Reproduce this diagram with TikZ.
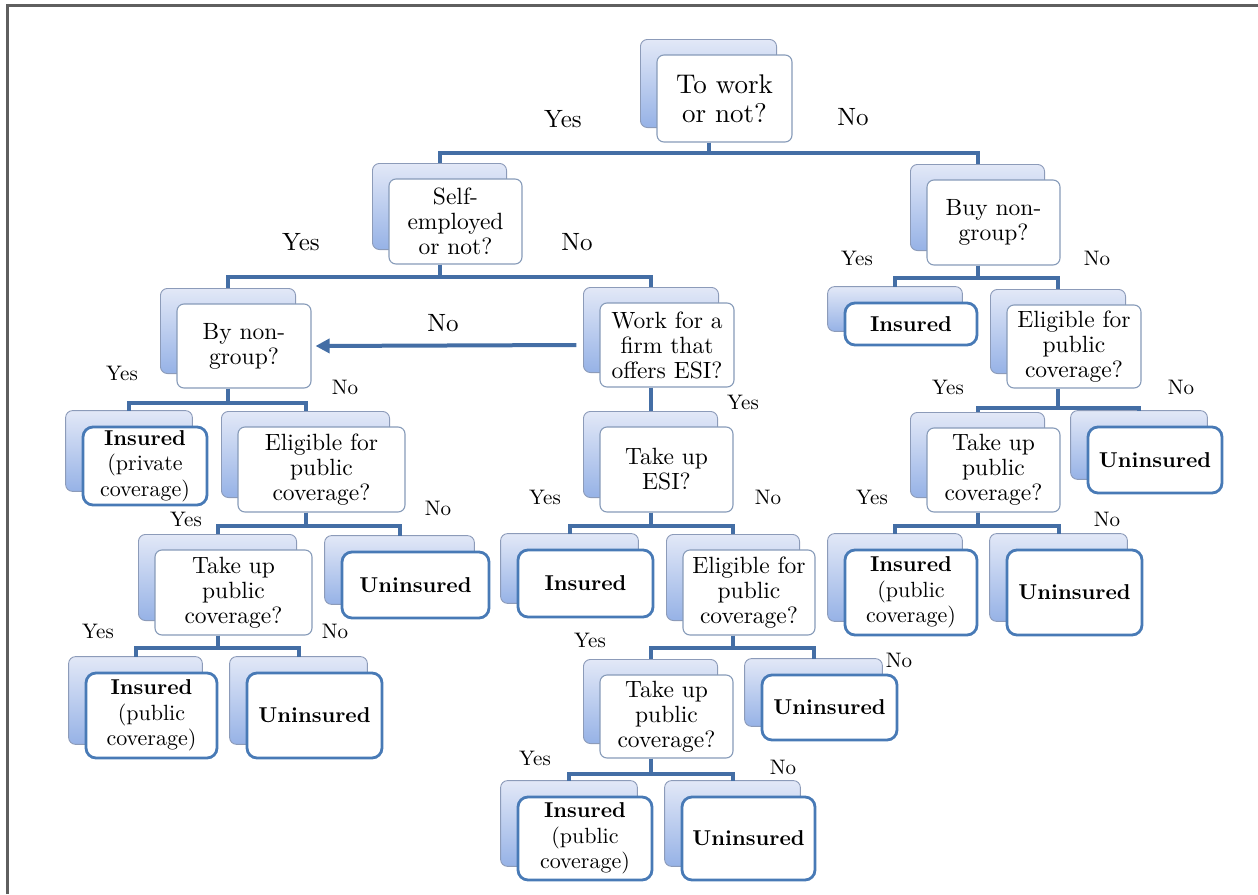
\documentclass[tikz,border=0pt]{standalone}
\usepackage{fontspec}
\setmainfont{lmroman10}[Extension=.otf, UprightFont=*-regular, BoldFont=*-bold, ItalicFont=*-italic, BoldItalicFont=*-bolditalic]
\usetikzlibrary{arrows.meta}
\pgfdeclarelayer{background}
\pgfsetlayers{background,main}
\definecolor{connc}{RGB}{68,110,165}
\definecolor{frontbd}{RGB}{135,155,185}
\definecolor{leafbd}{RGB}{72,122,182}
\definecolor{backbd}{RGB}{140,155,185}
\definecolor{backtop}{RGB}{226,232,247}
\definecolor{backbot}{RGB}{150,178,230}
\definecolor{framec}{RGB}{95,95,95}
\tikzset{
  front/.style={draw=frontbd, line width=1.1pt, fill=white, rounded corners=7pt,
    inner sep=0pt, align=center, font=\fontsize{23.5}{25}\selectfont},
  leaf/.style={front, draw=leafbd, line width=2.8pt, rounded corners=10pt, font=\fontsize{22}{25.5}\selectfont},
  backbox/.style={draw=backbd, line width=0.9pt, rounded corners=7pt,
    top color=backtop, bottom color=backbot},
  conn/.style={draw=connc, line width=4pt},
  lab/.style={font=\fontsize{21}{22}\selectfont, inner sep=0pt},
  biglab/.style={font=\fontsize{25}{26}\selectfont, inner sep=0pt},
  framel/.style={draw=framec, line width=3pt},
}
\newcommand\br[3]{\draw[conn] ([xshift=-16pt]#1.south) -- ++(0,#3) -| ([shift={(-16,-15)}]#2.north);}
\newcommand\bfx[1]{{\fontsize{21.5}{25.5}\selectfont\bfseries #1}}
\begin{document}
\begin{tikzpicture}[x=1pt,y=-1pt]
\useasboundingbox (0,0) rectangle (1258,894);
\draw[framel] (7,894) -- (7,5) -- (1258,5);

% decision nodes
\node[front, minimum width=135pt, minimum height=87pt, font=\fontsize{27}{29}\selectfont] (top) at (724.5,98.5) {To work\\or not?};
\node[front, minimum width=133pt, minimum height=85pt] (selfemp) at (455.5,221.5) {Self-\\employed\\or not?};
\node[front, minimum width=133pt, minimum height=85pt] (buyng) at (993.5,222.5) {Buy non-\\group?};
\node[front, minimum width=134pt, minimum height=84pt] (bynon) at (244,346) {By non-\\group?};
\node[front, minimum width=134pt, minimum height=84pt] (workfirm) at (667,345) {Work for a\\firm that\\offers ESI?};
\node[front, minimum width=134pt, minimum height=83pt] (eligR) at (1074,346.5) {Eligible for\\public\\coverage?};
\node[front, minimum width=167pt, minimum height=85pt] (eligL) at (321.5,469.5) {Eligible for\\public\\coverage?};
\node[front, minimum width=133pt, minimum height=85pt] (takeESI) at (666.5,469.5) {Take up\\ESI?};
\node[front, minimum width=133pt, minimum height=84pt] (takeR) at (993.5,470) {Take up\\public\\coverage?};
\node[front, minimum width=157pt, minimum height=85pt] (takeL) at (233.5,592.5) {Take up\\public\\coverage?};
\node[front, minimum width=132pt, minimum height=85pt] (eligM) at (749,592.5) {Eligible for\\public\\coverage?};
\node[front, minimum width=133pt, minimum height=83pt] (takeM) at (666.5,716.5) {Take up\\public\\coverage?};

% leaves
\node[leaf, minimum width=132pt, minimum height=42pt] (insR1) at (911,324) {\bfx{Insured}};
\node[leaf, minimum width=124pt, minimum height=78pt] (insPriv) at (145,466) {\bfx{Insured}\\(private\\coverage)};
\node[leaf, minimum width=134pt, minimum height=66pt] (uninsR1) at (1155,460) {\bfx{Uninsured}};
\node[leaf, minimum width=147pt, minimum height=66pt] (uninsL1) at (415.5,585) {\bfx{Uninsured}};
\node[leaf, minimum width=135pt, minimum height=67pt] (insESI) at (585.5,583.5) {\bfx{Insured}};
\node[leaf, minimum width=132pt, minimum height=85pt] (insPubR) at (911,592.5) {\bfx{Insured}\\(public\\coverage)};
\node[leaf, minimum width=135pt, minimum height=85pt] (uninsR2) at (1074.5,592.5) {\bfx{Uninsured}};
\node[leaf, minimum width=131pt, minimum height=85pt] (insPubL) at (151.5,715.5) {\bfx{Insured}\\(public\\coverage)};
\node[leaf, minimum width=135pt, minimum height=85pt] (uninsL2) at (314.5,715.5) {\bfx{Uninsured}};
\node[leaf, minimum width=135pt, minimum height=65pt] (uninsM1) at (829.5,707.5) {\bfx{Uninsured}};
\node[leaf, minimum width=134pt, minimum height=83pt] (insPubM) at (585,838.5) {\bfx{Insured}\\(public\\coverage)};
\node[leaf, minimum width=133pt, minimum height=83pt] (uninsM2) at (748.5,838.5) {\bfx{Uninsured}};

% back boxes
\begin{pgfonlayer}{background}
\foreach \n in {top,selfemp,buyng,bynon,workfirm,eligR,eligL,takeESI,takeR,takeL,eligM,takeM,
  insR1,insPriv,uninsR1,uninsL1,insESI,insPubR,uninsR2,insPubL,uninsL2,uninsM1,insPubM,uninsM2}
  \path[backbox] ([shift={(-16,-15)}]\n.north west) rectangle ([shift={(-16,-15)}]\n.south east);
\end{pgfonlayer}

% connectors
\br{top}{selfemp}{10}
\br{top}{buyng}{10}
\br{selfemp}{bynon}{12}
\br{selfemp}{workfirm}{12}
\br{bynon}{insPriv}{14}
\br{bynon}{eligL}{14}
\br{workfirm}{takeESI}{10}
\br{eligL}{takeL}{13}
\br{eligL}{uninsL1}{13}
\br{takeL}{insPubL}{12}
\br{takeL}{uninsL2}{12}
\br{takeESI}{insESI}{13}
\br{takeESI}{eligM}{13}
\br{eligM}{takeM}{12}
\br{eligM}{uninsM1}{12}
\br{takeM}{insPubM}{15}
\br{takeM}{uninsM2}{15}
\br{buyng}{insR1}{12}
\br{buyng}{eligR}{12}
\br{eligR}{takeR}{19}
\br{eligR}{uninsR1}{19}
\br{takeR}{insPubR}{13}
\br{takeR}{uninsR2}{13}
\draw[conn, -{Triangle[length=14pt,width=14pt]}] ([xshift=-23pt]workfirm.west) -- ([xshift=4pt]bynon.east);

% labels
\node[biglab] (l1) at (563,119) {Yes};
\node[biglab] (l2) at (853,117) {No};
\node[biglab] (l3) at (301,242) {Yes};
\node[biglab] (l4) at (577,242) {No};
\node[biglab] (l5) at (443,323) {No};
\node[lab] (l6) at (743,402) {Yes};
\node[lab] (l7) at (122,373) {Yes};
\node[lab] (l8) at (345,387) {No};
\node[lab] (l9) at (186,519) {Yes};
\node[lab] (l10) at (438,508) {No};
\node[lab] (l11) at (98,631) {Yes};
\node[lab] (l12) at (335,631) {No};
\node[lab] (l13) at (545,497) {Yes};
\node[lab] (l14) at (768,497) {No};
\node[lab] (l15) at (590,640) {Yes};
\node[lab] (l16) at (899,660) {No};
\node[lab] (l17) at (535,758) {Yes};
\node[lab] (l18) at (783,767) {No};
\node[lab] (l19) at (857,258) {Yes};
\node[lab] (l20) at (1097,258) {No};
\node[lab] (l21) at (948,387) {Yes};
\node[lab] (l22) at (1181,387) {No};
\node[lab] (l23) at (872,497) {Yes};
\node[lab] (l24) at (1107,519) {No};
\end{tikzpicture}
\end{document}
